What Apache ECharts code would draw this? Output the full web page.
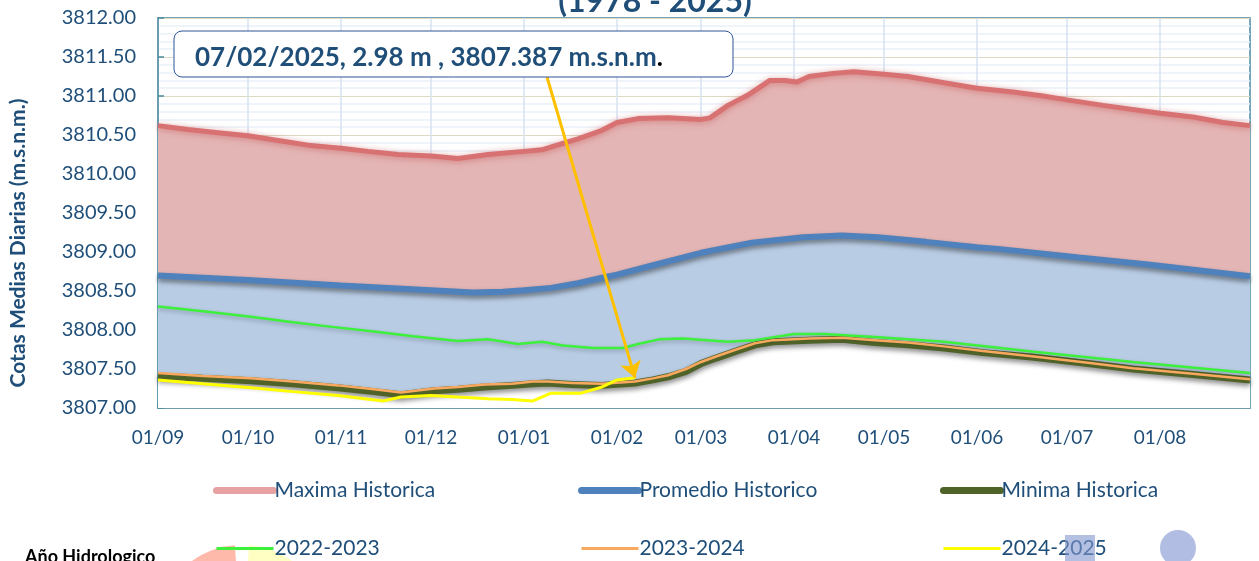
<!DOCTYPE html>
<html>
<head>
<meta charset="utf-8">
<title>Cotas Medias Diarias</title>
<script src="https://cdn.jsdelivr.net/npm/echarts@6.0.0/dist/echarts.min.js"></script>
<style>
html,body{margin:0;padding:0;background:#fff;}
#chart{width:1259px;height:561px;}
</style>
</head>
<body>
<div id="chart"></div>
<script>
// año hidrologico: 01/09 .. 31/08
var monthDays = [30, 31, 30, 31, 31, 28, 31, 30, 31, 30, 31, 31];
var monthNums = ['09', '10', '11', '12', '01', '02', '03', '04', '05', '06', '07', '08'];

// [dia del año hidrologico (0 = 01/09), cota m.s.n.m.]
var maxHist = [[0,3810.62],[10,3810.57],[20,3810.53],[30,3810.49],[40,3810.43],[50,3810.37],[61,3810.33],[70,3810.29],[80,3810.25],[91,3810.23],[100,3810.20],[110,3810.25],[122,3810.29],[128,3810.31],[133,3810.37],[140,3810.45],[148,3810.56],[153,3810.66],[160,3810.71],[170,3810.72],[181,3810.70],[184,3810.72],[190,3810.88],[197,3811.02],[204,3811.20],[209,3811.20],[213,3811.18],[217,3811.25],[225,3811.29],[232,3811.31],[242,3811.28],[250,3811.25],[262,3811.17],[273,3811.10],[285,3811.05],[295,3811.00],[303,3810.95],[315,3810.88],[334,3810.78],[345,3810.73],[355,3810.66],[364,3810.62]];
var promHist = [[0,3808.70],[30,3808.64],[61,3808.57],[91,3808.51],[105,3808.48],[115,3808.49],[122,3808.51],[131,3808.54],[140,3808.60],[148,3808.67],[153,3808.71],[165,3808.83],[181,3808.99],[198,3809.12],[215,3809.19],[228,3809.21],[240,3809.19],[256,3809.13],[273,3809.06],[280,3809.04],[307,3808.93],[330,3808.84],[364,3808.69]];
var minHist = [[0,3807.41],[15,3807.38],[31,3807.35],[45,3807.31],[60,3807.26],[72,3807.21],[81,3807.17],[92,3807.22],[100,3807.24],[109,3807.27],[118,3807.29],[125,3807.31],[130,3807.32],[138,3807.30],[148,3807.29],[159,3807.32],[165,3807.36],[170,3807.40],[176,3807.47],[181,3807.57],[186,3807.64],[192,3807.72],[199,3807.81],[205,3807.85],[217,3807.87],[228,3807.88],[239,3807.84],[250,3807.81],[262,3807.77],[275,3807.71],[292,3807.65],[310,3807.57],[325,3807.50],[345,3807.43],[364,3807.36]];
var y2022 = [[0,3808.30],[15,3808.24],[31,3808.17],[45,3808.10],[58,3808.04],[72,3807.98],[85,3807.92],[100,3807.86],[110,3807.88],[120,3807.82],[128,3807.85],[135,3807.80],[145,3807.77],[155,3807.77],[160,3807.82],[167,3807.88],[175,3807.89],[190,3807.85],[199,3807.87],[212,3807.95],[222,3807.95],[239,3807.91],[262,3807.85],[292,3807.72],[325,3807.59],[364,3807.45]];
var y2023 = [[0,3807.45],[15,3807.41],[31,3807.38],[45,3807.34],[60,3807.29],[72,3807.24],[81,3807.20],[92,3807.25],[100,3807.27],[109,3807.30],[118,3807.31],[125,3807.34],[130,3807.34],[138,3807.32],[148,3807.31],[159,3807.34],[165,3807.38],[170,3807.42],[176,3807.50],[181,3807.59],[186,3807.66],[192,3807.74],[199,3807.83],[205,3807.87],[217,3807.89],[228,3807.90],[239,3807.87],[250,3807.84],[262,3807.79],[275,3807.73],[292,3807.66],[310,3807.58],[325,3807.51],[345,3807.44],[364,3807.37]];
var y2024 = [[0,3807.36],[15,3807.31],[31,3807.26],[45,3807.21],[60,3807.16],[75,3807.09],[81,3807.14],[91,3807.16],[100,3807.14],[110,3807.12],[118,3807.11],[125,3807.09],[131,3807.19],[141,3807.19],[148,3807.27],[153,3807.36],[159,3807.387]];

var lastPoint = [159, 3807.387];
var noteText = '07/02/2025, 2.98 m , 3807.387 m.s.n.m';

var days = [];
monthDays.forEach(function (n, m) {
  for (var d = 1; d <= n; d++) {
    days.push((d < 10 ? '0' + d : '' + d) + '/' + monthNums[m]);
  }
});
function isMonthStart(i, v) { return v.slice(0, 2) === '01'; }

var blue = '#1f4e79';
var font = 'Lato';
var shadow = { shadowColor: 'rgba(0,0,0,0.45)', shadowBlur: 5, shadowOffsetY: 3 };

var legendCols = [
  [{ name: 'Maxima Historica', lineStyle: { color: '#e6a2a2', width: 7, cap: 'round' } }, { name: '2022-2023', lineStyle: { color: '#3cf03c', width: 3 } }],
  [{ name: 'Promedio Historico', lineStyle: { color: '#4f81bd', width: 7, cap: 'round' } }, { name: '2023-2024', lineStyle: { color: '#f9a95f', width: 3 } }],
  [{ name: 'Minima Historica', lineStyle: { color: '#4f6228', width: 7, cap: 'round' } }, { name: '2024-2025', lineStyle: { color: '#ffff00', width: 3 } }]
];
var legendLeft = [213, 578, 940];

var chart = echarts.init(document.getElementById('chart'));
chart.setOption({
  backgroundColor: '#fff',
  animation: false,
  textStyle: { fontFamily: font },
  grid: { left: 158, right: 9, top: 18, bottom: 153, show: true, borderColor: '#4b8ba0', borderWidth: 1.5 },
  xAxis: {
    type: 'category',
    data: days,
    boundaryGap: false,
    axisLine: { lineStyle: { color: '#4b8ba0', width: 1.5 } },
    axisTick: { inside: true, length: 6, interval: isMonthStart, lineStyle: { color: '#4b8ba0', width: 1.5 } },
    axisLabel: { interval: isMonthStart, color: blue, fontSize: 19, margin: 20, fontFamily: font },
    splitLine: { show: true, interval: isMonthStart, lineStyle: { color: '#d6e2f1', width: 1.5 } }
  },
  yAxis: {
    type: 'value',
    min: 3807, max: 3812, interval: 0.5,
    axisLine: { show: true, lineStyle: { color: '#4b8ba0', width: 1.5 } },
    axisTick: { show: true, inside: true, length: 6, lineStyle: { color: '#4b8ba0', width: 1.5 } },
    axisLabel: { color: blue, fontSize: 20, margin: 22, fontFamily: font, formatter: function (v) { return v.toFixed(2); } },
    splitLine: { lineStyle: { color: '#ddd9c3', width: 1.2 } },
    minorTick: { show: false, splitNumber: 5 },
    minorSplitLine: { show: true, lineStyle: { color: '#eaf1f9', width: 1.5 } }
  },
  legend: legendCols.map(function (items, k) {
    return {
      left: legendLeft[k], top: 480, orient: 'vertical', padding: 0,
      itemWidth: 57, itemHeight: 20, itemGap: 37,
      itemStyle: { opacity: 0 },
      textStyle: { color: blue, fontSize: 21, lineHeight: 20, fontFamily: font, padding: [0, 0, 0, -4] },
      data: items
    };
  }),
  series: [
    {
      name: 'Maxima Historica', type: 'line', data: maxHist, symbol: 'none',
      lineStyle: { color: '#d87171', width: 5, shadowColor: 'rgba(200,90,90,0.6)', shadowBlur: 6, shadowOffsetY: 1 },
      areaStyle: { color: '#e4b5b5', opacity: 1, origin: 'start' }
    },
    {
      name: 'Promedio Historico', type: 'line', data: promHist, symbol: 'none',
      lineStyle: Object.assign({ color: '#4f81bd', width: 6 }, shadow),
      areaStyle: { color: '#b8cce4', opacity: 1, origin: 'start' }
    },
    {
      name: 'Minima Historica', type: 'line', data: minHist, symbol: 'none',
      lineStyle: Object.assign({ color: '#4f6228', width: 7 }, shadow),
      areaStyle: { color: '#ffffff', opacity: 1, origin: 'start' }
    },
    {
      name: '2022-2023', type: 'line', data: y2022, symbol: 'none',
      lineStyle: { color: '#3cf03c', width: 2.5, shadowColor: 'rgba(0,0,0,0.25)', shadowBlur: 4, shadowOffsetY: 2 }
    },
    {
      name: '2023-2024', type: 'line', data: y2023, symbol: 'none',
      lineStyle: { color: '#f9a95f', width: 2.5 }
    },
    {
      name: '2024-2025', type: 'line', data: y2024, symbol: 'none',
      lineStyle: { color: '#ffff00', width: 3 },
      markLine: {
        silent: true, animation: false,
        symbol: ['none', 'arrow'], symbolSize: 16,
        label: { show: false },
        lineStyle: { color: '#ffc000', width: 3, type: 'solid' },
        data: [[{ x: 547, y: 77 }, { coord: lastPoint }]]
      }
    }
  ],
  graphic: [
    {
      type: 'text', x: 655, y: -14, z: 10,
      style: { text: '(1978 - 2025)', font: 'bold 32px Lato', fill: blue, align: 'center', verticalAlign: 'top' }
    },
    {
      type: 'rect', shape: { x: 174, y: 31, width: 559, height: 46, r: 8 }, z: 10,
      style: { fill: '#fff', stroke: '#2f5597', lineWidth: 1 }
    },
    {
      type: 'text', x: 195, y: 58, z: 11,
      style: {
        text: '{a|' + noteText + '}{b|.}',
        verticalAlign: 'middle',
        rich: {
          a: { font: 'bold 26px Lato', fill: blue },
          b: { font: 'bold 26px Lato', fill: '#000' }
        }
      }
    },
    {
      type: 'text', x: 18, y: 243, rotation: Math.PI / 2, z: 10,
      style: { text: 'Cotas Medias Diarias (m.s.n.m.)', font: 'bold 21px Lato', fill: blue, align: 'center', verticalAlign: 'middle' }
    },
    {
      type: 'text', x: 25, y: 557, z: 10,
      style: { text: 'Año Hidrologico', font: 'bold 18px Lato', fill: '#000', verticalAlign: 'middle' }
    },
    {
      type: 'sector', z: 1,
      shape: { cx: 240, cy: 625, r0: 0, r: 80, startAngle: Math.PI * 1.2, endAngle: Math.PI * 1.48 },
      style: { fill: '#ffb9aa' }
    },
    {
      type: 'sector', z: 1,
      shape: { cx: 244, cy: 625, r0: 0, r: 80, startAngle: Math.PI * 1.52, endAngle: Math.PI * 1.8 },
      style: { fill: '#ffffc4' }
    },
    {
      type: 'rect', z: 20, shape: { x: 1065, y: 535, width: 30, height: 30 },
      style: { fill: 'rgba(130,150,205,0.6)' }
    },
    {
      type: 'circle', z: 20, shape: { cx: 1178, cy: 548, r: 18 },
      style: { fill: '#b1bde2' }
    }
  ]
});
</script>
</body>
</html>
